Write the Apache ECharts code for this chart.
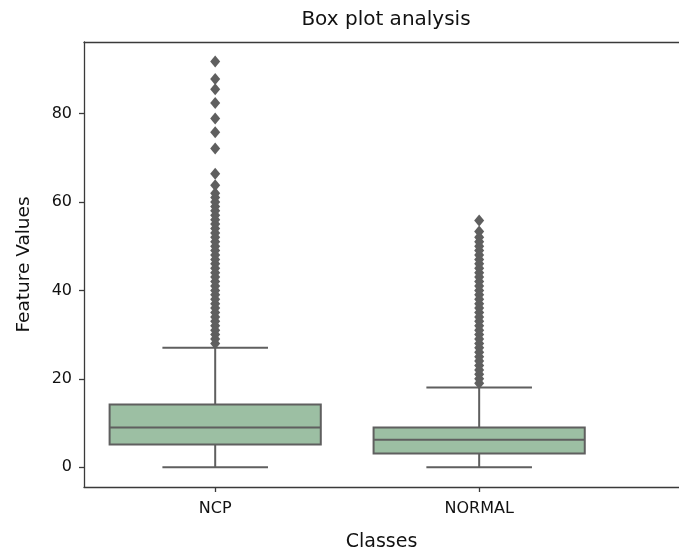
<!DOCTYPE html>
<html>
<head>
<meta charset="utf-8">
<script src="https://cdn.jsdelivr.net/npm/echarts@6/dist/echarts.min.js"></script>
<style>
  html, body { margin: 0; padding: 0; background: #fff; }
  #main { width: 679px; height: 557px; }
</style>
</head>
<body>
<div id="main"></div>
<script>
// box stats per class: [min, q1, median, q3, max(whisker)]
const classes = ['NCP', 'NORMAL'];
const boxStats = [
    [0, 5.1, 9.0, 14.2, 27.0],
    [0, 3.1, 6.2, 9.0, 18.0]
];
const ncpOutliers = [
    28, 29, 30, 31, 32, 33, 34, 35, 36, 37, 38, 39, 40, 41, 42, 43, 44, 45,
    46, 47, 48, 49, 50, 51, 52, 53, 54, 55, 56, 57, 58, 59, 60, 61, 62,
    63.8, 66.4, 72.1, 75.8, 78.9, 82.4, 85.5, 87.8, 91.8
];
const normalOutliers = [
    19, 20, 21, 22, 23, 24, 25, 26, 27, 28, 29, 30, 31, 32, 33, 34, 35, 36,
    37, 38, 39, 40, 41, 42, 43, 44, 45, 46, 47, 48, 49, 50, 51, 52,
    53.3, 55.8
];
const yTicks = [0, 20, 40, 60, 80];

var chartDom = document.getElementById('main');
var myChart = echarts.init(chartDom);
var option;

const lineColor = '#5f5f5f';
const fillColor = '#9cbfa3';
const frameColor = '#3a3a3a';
const font = 'DejaVu Sans';

function renderBox(params, api) {
    const x = api.value(0);
    const lo = api.coord([x, api.value(1)]);
    const q1 = api.coord([x, api.value(2)]);
    const med = api.coord([x, api.value(3)]);
    const q3 = api.coord([x, api.value(4)]);
    const hi = api.coord([x, api.value(5)]);
    const boxW = api.size([0.8, 0])[0];
    const half = boxW / 2;
    const cap = boxW / 4;
    const cx = lo[0];
    const ls = { stroke: lineColor, lineWidth: 2, fill: null };
    return {
        type: 'group',
        children: [
            { type: 'line', shape: { x1: cx, y1: lo[1], x2: cx, y2: q1[1] }, style: ls },
            { type: 'line', shape: { x1: cx, y1: q3[1], x2: cx, y2: hi[1] }, style: ls },
            { type: 'line', shape: { x1: cx - cap, y1: lo[1], x2: cx + cap, y2: lo[1] }, style: ls },
            { type: 'line', shape: { x1: cx - cap, y1: hi[1], x2: cx + cap, y2: hi[1] }, style: ls },
            {
                type: 'rect',
                shape: { x: cx - half, y: q3[1], width: boxW, height: q1[1] - q3[1] },
                style: { fill: fillColor, stroke: lineColor, lineWidth: 2 }
            },
            { type: 'line', shape: { x1: cx - half, y1: med[1], x2: cx + half, y2: med[1] }, style: ls }
        ]
    };
}

// the axes run past the right edge of the picture, so only 3 sides are framed
const xMin = -0.497;
const xMax = 1.757;

option = {
    backgroundColor: '#fff',
    animation: false,
    title: {
        text: 'Box plot analysis',
        left: 386,
        top: 10,
        padding: 0,
        textAlign: 'center',
        textStyle: { fontFamily: font, fontSize: 20, fontWeight: 'normal', color: '#111' }
    },
    grid: {
        left: 84,
        top: 42,
        right: 0,
        bottom: 67
    },
    xAxis: [
        {
            type: 'value',
            position: 'bottom',
            min: xMin,
            max: xMax,
            name: 'Classes',
            nameLocation: 'middle',
            nameGap: 46,
            nameTextStyle: { fontFamily: font, fontSize: 19, color: '#111' },
            axisLine: { show: true, onZero: false, lineStyle: { color: frameColor, width: 1.3 } },
            splitLine: { show: false },
            axisTick: { show: true, length: 5, customValues: [0, 1], lineStyle: { color: frameColor, width: 1.3 } },
            axisLabel: {
                customValues: [0, 1],
                margin: 14,
                fontFamily: font,
                fontSize: 16,
                color: '#111',
                formatter: function (v) { return classes[Math.round(v)]; }
            }
        },
        {
            type: 'value',
            position: 'top',
            min: xMin,
            max: xMax,
            axisLine: { show: true, onZero: false, lineStyle: { color: frameColor, width: 1.3 } },
            splitLine: { show: false },
            axisTick: { show: false },
            axisLabel: { show: false }
        }
    ],
    yAxis: {
        type: 'value',
        min: -4.49,
        max: 96.2,
        name: 'Feature Values',
        nameLocation: 'middle',
        nameGap: 50,
        nameTextStyle: { fontFamily: font, fontSize: 18.5, color: '#111' },
        axisLine: { show: true, onZero: false, lineStyle: { color: frameColor, width: 1.3 } },
        splitLine: { show: false },
        axisTick: { show: true, length: 5, customValues: yTicks, lineStyle: { color: frameColor, width: 1.3 } },
        axisLabel: {
            customValues: yTicks,
            margin: 12,
            fontFamily: font,
            fontSize: 16,
            color: '#111'
        }
    },
    series: [
        {
            type: 'custom',
            renderItem: renderBox,
            encode: { x: 0, y: [1, 2, 3, 4, 5] },
            data: boxStats.map((s, i) => [i].concat(s)),
            z: 2
        },
        {
            type: 'scatter',
            symbol: 'diamond',
            symbolSize: [10, 12],
            itemStyle: { color: lineColor, opacity: 1 },
            data: ncpOutliers.map(v => [0, v]).concat(normalOutliers.map(v => [1, v])),
            z: 3
        }
    ]
};

option && myChart.setOption(option);
</script>
</body>
</html>
